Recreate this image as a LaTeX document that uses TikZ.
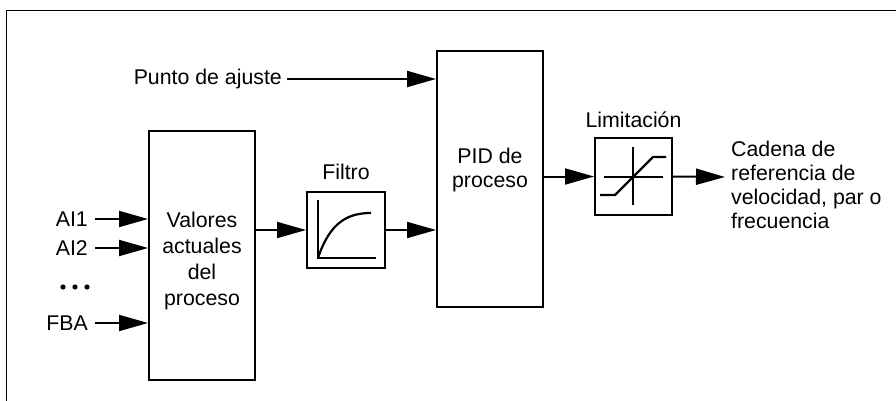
\documentclass[tikz,border=0pt]{standalone}
\usepackage{fontspec}
\setmainfont{Liberation Sans}
\usetikzlibrary{arrows.meta}
\begin{document}
\begin{tikzpicture}[x=1pt,y=-1pt,
  every node/.style={font=\fontsize{21.3}{24}\selectfont, inner sep=0pt},
  blk/.style={draw, line width=2pt, minimum width=#1},
  conn/.style={line width=2pt, -{Triangle[length=29pt,width=16pt]}},
  ax/.style={line width=1.6pt},
  crv/.style={line width=2.2pt}]
\useasboundingbox (0,0) rectangle (896,401);
% frame
\draw[line width=1.5pt] (6.5,401) -- (6.5,10.5) -- (896,10.5);

% boxes
\node[blk=106pt, minimum height=249pt] (val) at (202,255.5) {};
\node[blk=78pt, minimum height=76pt] (fil) at (346,230) {};
\node[blk=106pt, minimum height=256pt] (pid) at (490,179) {};
\node[blk=77pt, minimum height=77pt] (lim) at (633.5,176.5) {};

% texts
\node[anchor=north, align=center, font=\fontsize{21.3}{26}\selectfont] (valt) at (202,212) {Valores\\actuales\\del\\proceso};
\node[anchor=north, align=center] (pidt) at (490,148) {PID de\\proceso};
\node (filt) at (346,172) {Filtro};
\node (limt) at (633.5,120) {Limitación};
\node[anchor=east] (pa) at (282,79) {Punto de ajuste};
\node[anchor=east] (ai1) at (88,219) {AI1};
\node[anchor=east] (ai2) at (88,248) {AI2};
\node[anchor=east] (fba) at (88,323) {FBA};
\node[anchor=north west, align=left] (out) at (731,141) {Cadena de\\referencia de\\velocidad, par o\\frecuencia};
\coordinate (outend) at (725,177);

% dots
\fill (63,287) circle (2.6pt) (75,287) circle (2.6pt) (87,287) circle (2.6pt);

% connectors
\draw[conn] ([xshift=7pt]ai1.east) -- (ai1 -| val.west);
\draw[conn] ([xshift=7pt]ai2.east) -- (ai2 -| val.west);
\draw[conn] ([xshift=7pt]fba.east) -- (fba -| val.west);
\draw[conn] ([xshift=5pt]pa.east) -- (pa -| pid.west);
\draw[conn] (val.east |- fil.west) -- (fil.west);
\draw[conn] (fil.east) -- (fil.east -| pid.west);
\draw[conn] (pid.east |- lim.west) -- (lim.west);
\draw[conn] (lim.east) -- (outend);

% filter symbol
\draw[ax] (318,200) -- (318,258) -- (376,258);
\draw[crv] (318,258) .. controls (330,222) and (348,213) .. (371,213);

% limiter symbol
\draw[ax] (604,177) -- (663,177);
\draw[ax] (633,147) -- (633,205);
\draw[crv] (600,195) -- (615,195) -- (653,157) -- (666,157);
\end{tikzpicture}
\end{document}
